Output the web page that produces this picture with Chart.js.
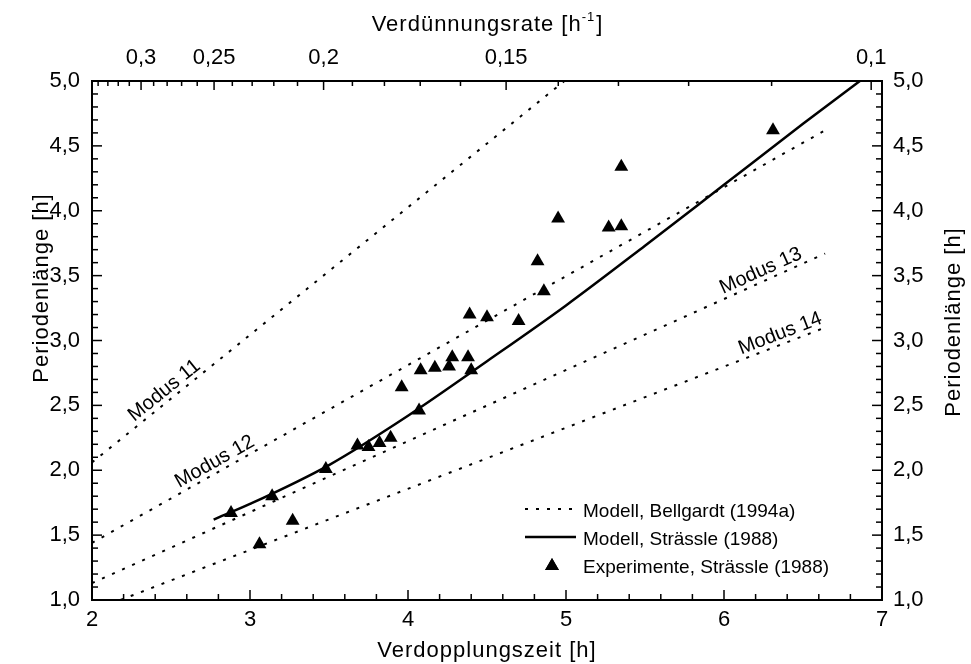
<!DOCTYPE html>
<html>
<head>
<meta charset="utf-8">
<script src="https://cdn.jsdelivr.net/npm/chart.js@4.4.0/dist/chart.umd.min.js"></script>
<style>
  html, body { margin: 0; padding: 0; background: #fff; }
  #wrap { width: 971px; height: 664px; }
</style>
</head>
<body>
<div id="wrap"><canvas id="periodChart" width="971" height="664"></canvas></div>
<script>
const FONT = '"Liberation Sans", Arial, Helvetica, sans-serif';

// Experimente, Strässle (1988): Verdopplungszeit [h] / Periodenlänge [h]
const expTd = [2.88, 3.06, 3.14, 3.27, 3.48, 3.68, 3.75, 3.82, 3.89, 3.96, 4.07, 4.08, 4.17, 4.26,
               4.28, 4.38, 4.40, 4.39, 4.50, 4.70, 4.82, 4.86, 4.95, 5.27, 5.35, 5.35, 6.31];
const expPeriod = [1.67, 1.43, 1.80, 1.61, 2.01, 2.19, 2.18, 2.21, 2.25, 2.64, 2.46, 2.77, 2.79, 2.80,
                   2.87, 2.87, 2.77, 3.20, 3.18, 3.15, 3.61, 3.38, 3.94, 3.87, 3.88, 4.34, 4.62];

// Modell, Strässle (1988)
const modelTd = [2.77, 3.0, 3.5, 4.0, 4.5, 5.0, 5.5, 6.0, 6.5, 6.86];
const modelPeriod = [1.62, 1.74, 2.04, 2.42, 2.84, 3.27, 3.73, 4.20, 4.67, 5.0];

// Modell, Bellgardt (1994a): Modus 11..14
const modusNames = ['Modus 11', 'Modus 12', 'Modus 13', 'Modus 14'];
const modusStartTd = [2.0, 2.0, 2.0, 2.18];
const modusStartP = [2.06, 1.44, 1.13, 1.0];
const modusEndTd = [4.99, 6.64, 6.64, 6.64];
const modusEndP = [5.0, 4.62, 3.67, 3.10];
const modusLabelTd = [2.50, 2.81, 6.26, 6.38];

// top axis: Verdünnungsrate D = ln2 / td
const rateLabels = [0.3, 0.25, 0.2, 0.15, 0.1];
const rateLabelText = ['0,3', '0,25', '0,2', '0,15', '0,1'];
const rateMinor = [0.34, 0.33, 0.32, 0.31, 0.29, 0.28, 0.27, 0.26, 0.24, 0.23, 0.22, 0.21,
                   0.19, 0.18, 0.17, 0.16, 0.14, 0.13, 0.12, 0.11];

const legendItems = ['Modell, Bellgardt (1994a)', 'Modell, Strässle (1988)', 'Experimente, Strässle (1988)'];

const modusDatasets = modusNames.map((name, i) => ({
  type: 'line',
  label: name,
  data: [{x: modusStartTd[i], y: modusStartP[i]}, {x: modusEndTd[i], y: modusEndP[i]}],
  borderColor: '#000',
  borderWidth: 2,
  borderDash: [3, 8],
  pointRadius: 0,
  fill: false
}));

const tickFont = {family: FONT, size: 22};

function commaFmt(v) { return v.toFixed(1).replace('.', ','); }

// frame, inward ticks, titles, labels and legend
const axisFrame = {
  id: 'axisFrame',
  afterDraw(chart) {
    const ctx = chart.ctx;
    const a = chart.chartArea;
    const sx = chart.scales.x, sy = chart.scales.y;
    ctx.save();
    ctx.strokeStyle = '#000';
    ctx.fillStyle = '#000';
    ctx.lineWidth = 2;
    ctx.setLineDash([]);
    ctx.strokeRect(a.left, a.top, a.right - a.left, a.bottom - a.top);

    ctx.lineWidth = 1.5;
    const tick = (x1, y1, x2, y2) => { ctx.beginPath(); ctx.moveTo(x1, y1); ctx.lineTo(x2, y2); ctx.stroke(); };
    // bottom
    for (let k = 0; k <= 25; k++) {
      const v = 2 + k * 0.2;
      const px = sx.getPixelForValue(v);
      const len = (k % 5 === 0) ? 10 : 6;
      tick(px, a.bottom, px, a.bottom - len);
    }
    // left and right
    for (let k = 0; k <= 40; k++) {
      const v = 1 + k * 0.1;
      const py = sy.getPixelForValue(v);
      const len = (k % 5 === 0) ? 10 : 6;
      tick(a.left, py, a.left + len, py);
      tick(a.right, py, a.right - len, py);
    }
    // top (dilution rate)
    rateLabels.forEach(d => {
      const px = sx.getPixelForValue(Math.LN2 / d);
      tick(px, a.top, px, a.top + 9);
    });
    rateMinor.forEach(d => {
      const px = sx.getPixelForValue(Math.LN2 / d);
      tick(px, a.top, px, a.top + 5);
    });

    // axis titles
    ctx.font = '22px ' + FONT;
    ctx.letterSpacing = '1px';
    ctx.textAlign = 'center';
    ctx.textBaseline = 'alphabetic';
    ctx.fillText('Verdopplungszeit [h]', (a.left + a.right) / 2, 657);

    ctx.save();
    ctx.translate(48, 288);
    ctx.rotate(-Math.PI / 2);
    ctx.fillText('Periodenlänge [h]', 0, 0);
    ctx.restore();
    ctx.save();
    ctx.translate(960, 322);
    ctx.rotate(-Math.PI / 2);
    ctx.fillText('Periodenlänge [h]', 0, 0);
    ctx.restore();

    // top title with superscript
    const t1 = 'Verdünnungsrate [h', sup = '-1', t3 = ']';
    ctx.font = '22px ' + FONT;
    const w1 = ctx.measureText(t1).width, w3 = ctx.measureText(t3).width;
    ctx.font = '13px ' + FONT;
    const w2 = ctx.measureText(sup).width;
    let x0 = (a.left + a.right) / 2 - (w1 + w2 + w3) / 2;
    ctx.textAlign = 'left';
    ctx.font = '22px ' + FONT;
    ctx.fillText(t1, x0, 31);
    ctx.font = '13px ' + FONT;
    ctx.fillText(sup, x0 + w1, 21);
    ctx.font = '22px ' + FONT;
    ctx.fillText(t3, x0 + w1 + w2 + 1, 31);
    ctx.letterSpacing = '0px';

    // Modus labels along the dotted lines
    ctx.font = '20px ' + FONT;
    ctx.textAlign = 'center';
    modusNames.forEach((name, i) => {
      const slope = (modusEndP[i] - modusStartP[i]) / (modusEndTd[i] - modusStartTd[i]);
      const t = modusLabelTd[i];
      const p = modusStartP[i] + slope * (t - modusStartTd[i]);
      const px = sx.getPixelForValue(t), py = sy.getPixelForValue(p);
      const ang = Math.atan2(sy.getPixelForValue(modusEndP[i]) - sy.getPixelForValue(modusStartP[i]),
                             sx.getPixelForValue(modusEndTd[i]) - sx.getPixelForValue(modusStartTd[i]));
      ctx.save();
      ctx.translate(px, py);
      ctx.rotate(ang);
      ctx.fillText(name, 0, -5);
      ctx.restore();
    });

    // legend
    ctx.font = '19px ' + FONT;
    ctx.textAlign = 'left';
    const lx0 = 525, lx1 = 579, tx = 583;
    const rows = [509, 537, 565];
    ctx.lineWidth = 2;
    ctx.setLineDash([3, 8]);
    tick(lx0, rows[0], lx1, rows[0]);
    ctx.setLineDash([]);
    ctx.lineWidth = 2.5;
    tick(lx0, rows[1], lx1 - 3, rows[1]);
    Chart.helpers.drawPoint(ctx, {pointStyle: 'triangle', radius: 8, borderWidth: 0, rotation: 0},
                            (lx0 + lx1) / 2, rows[2] + 1);
    ctx.fill();
    legendItems.forEach((txt, i) => ctx.fillText(txt, tx, rows[i] + 8));
    ctx.restore();
  }
};

new Chart(document.getElementById('periodChart'), {
  type: 'scatter',
  data: {
    datasets: [
      ...modusDatasets,
      {
        type: 'line',
        label: 'Modell, Strässle (1988)',
        data: modelTd.map((x, i) => ({x, y: modelPeriod[i]})),
        borderColor: '#000',
        borderWidth: 2.5,
        pointRadius: 0,
        cubicInterpolationMode: 'monotone',
        fill: false
      },
      {
        type: 'scatter',
        label: 'Experimente, Strässle (1988)',
        data: expTd.map((x, i) => ({x, y: expPeriod[i]})),
        pointStyle: 'triangle',
        pointRadius: 8,
        pointBackgroundColor: '#000',
        pointBorderWidth: 0,
        showLine: false
      }
    ]
  },
  options: {
    responsive: false,
    animation: false,
    layout: {padding: 0},
    plugins: {legend: {display: false}, tooltip: {enabled: false}},
    scales: {
      x: {
        type: 'linear', position: 'bottom', min: 2, max: 7,
        grid: {display: false, drawTicks: false}, border: {display: false},
        ticks: {stepSize: 1, padding: 7, font: tickFont, color: '#000', maxRotation: 0,
                callback: v => String(v)},
        afterFit: s => { s.height = 64; }
      },
      x2: {
        type: 'linear', position: 'top', min: 2, max: 7,
        grid: {display: false, drawTicks: false}, border: {display: false},
        afterBuildTicks: s => { s.ticks = rateLabels.map(d => ({value: Math.LN2 / d})); },
        ticks: {autoSkip: false, padding: 10, font: tickFont, color: '#000', maxRotation: 0,
                callback: (v, i) => rateLabelText[i]},
        afterFit: s => { s.height = 81; }
      },
      y: {
        type: 'linear', position: 'left', min: 1, max: 5,
        grid: {display: false, drawTicks: false}, border: {display: false},
        ticks: {stepSize: 0.5, padding: 12, font: tickFont, color: '#000', callback: commaFmt},
        afterFit: s => { s.width = 92; }
      },
      y2: {
        type: 'linear', position: 'right', min: 1, max: 5,
        grid: {display: false, drawTicks: false}, border: {display: false},
        ticks: {stepSize: 0.5, padding: 11, font: tickFont, color: '#000', callback: commaFmt},
        afterFit: s => { s.width = 89; }
      }
    }
  },
  plugins: [axisFrame]
});
</script>
</body>
</html>
